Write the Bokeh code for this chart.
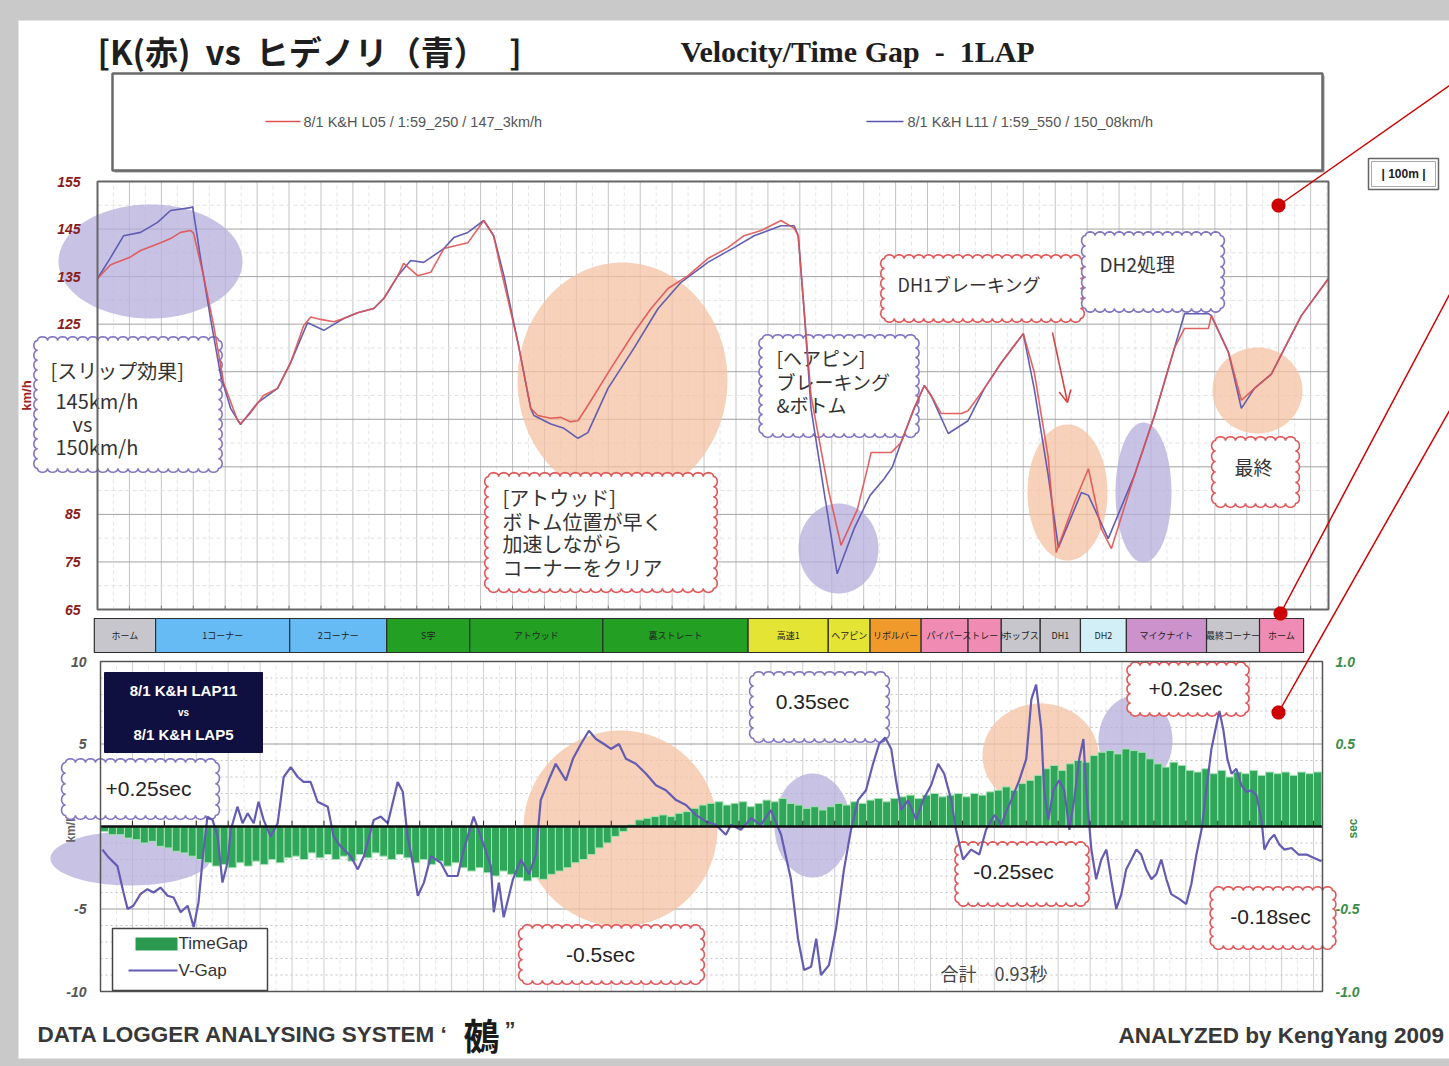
import math
import numpy as np
from bokeh.plotting import figure
from bokeh.layouts import column
from bokeh.models import (Range1d, LinearAxis, FixedTicker, PrintfTickFormatter, Arrow, OpenHead)
from bokeh.core.properties import value
from bokeh.embed import file_html
from bokeh.resources import INLINE

# ---------------- lap data ----------------
# distance along the lap [m] and speed [km/h]
red_dist = [0, 41, 100, 135, 198, 229, 260, 292, 301, 332, 364, 395, 439, 448, 475, 520, 564, 605, 646, 668,
            699, 740, 771, 815, 865, 897, 941, 959, 1003, 1044, 1085, 1160, 1210, 1241, 1263, 1317, 1357, 1379, 1420, 1452,
            1480, 1505, 1536, 1608, 1680, 1734, 1787, 1850, 1912, 1975, 2025, 2079, 2141, 2182, 2195, 2213, 2235, 2290, 2329, 2380,
            2414, 2423, 2486, 2517, 2558, 2590, 2611, 2643, 2706, 2727, 2778, 2831, 2900, 2934, 2978, 3003, 3060, 3104, 3144, 3176,
            3248, 3311, 3373, 3405, 3417, 3480, 3489, 3543, 3583, 3624, 3677, 3718, 3771, 3856]
red_kmh = [134.6, 137.5, 139.0, 140.5, 142.1, 143.0, 144.3, 144.7, 144.1, 135.2, 124.7, 112.7, 104.7, 104.1, 106.0, 110.0, 111.5, 116.9, 124.7, 126.5,
           126.0, 125.5, 126.2, 127.4, 128.3, 130.4, 135.2, 137.8, 135.2, 135.9, 140.9, 142.1, 146.8, 143.6, 136.7, 121.1, 107.3, 105.8, 105.2, 105.4,
           104.5, 104.7, 107.9, 115.7, 123.2, 128.3, 132.5, 135.2, 138.8, 141.1, 143.6, 144.7, 146.8, 145.2, 143.6, 128.3, 110.0, 90.0, 78.5, 86.0,
           95.3, 98.0, 98.0, 100.1, 107.3, 112.1, 110.0, 106.2, 106.2, 106.8, 111.5, 116.9, 123.0, 115.0, 97.0, 77.0, 87.5, 94.6, 82.0, 77.8,
           93.2, 105.8, 119.9, 124.1, 124.1, 124.1, 126.8, 119.0, 109.0, 111.5, 114.5, 119.9, 126.8, 134.6]

blue_dist = [0, 41, 82, 135, 188, 229, 292, 298, 323, 354, 386, 417, 448, 502, 564, 605, 658, 709, 771, 815,
             865, 897, 941, 981, 1022, 1085, 1116, 1160, 1210, 1241, 1273, 1317, 1357, 1367, 1420, 1461, 1505, 1536, 1599, 1680,
             1756, 1828, 1912, 1994, 2057, 2141, 2182, 2195, 2213, 2235, 2280, 2317, 2370, 2420, 2464, 2490, 2517, 2558, 2590, 2611,
             2665, 2727, 2778, 2831, 2900, 2934, 2978, 3010, 3082, 3104, 3166, 3248, 3311, 3373, 3405, 3480, 3489, 3543, 3583, 3624,
             3677, 3718, 3771, 3856]
blue_kmh = [134.6, 139.0, 143.6, 144.3, 146.4, 148.9, 149.5, 149.7, 138.8, 126.2, 114.2, 107.3, 103.9, 108.5, 111.5, 116.9, 125.3, 123.7, 126.2, 127.4,
            128.3, 130.4, 135.2, 138.4, 138.0, 140.9, 143.2, 144.3, 146.8, 143.6, 135.2, 121.1, 107.3, 105.8, 104.0, 103.1, 101.0, 102.2, 111.5, 119.9,
            128.3, 133.8, 138.0, 141.1, 143.6, 145.7, 145.7, 143.6, 128.3, 107.3, 88.0, 72.5, 82.0, 89.0, 92.5, 95.0, 100.1, 107.3, 112.1, 110.0,
            102.0, 104.7, 111.5, 116.9, 123.0, 111.5, 93.2, 78.0, 89.6, 89.0, 79.9, 93.2, 105.8, 119.9, 127.2, 127.2, 126.8, 119.0, 107.3, 111.5,
            114.5, 119.9, 126.8, 134.6]

# time gap per 25 m bin [sec]
gap_step_m = 25
time_gap_sec = [-0.03, -0.05, -0.05, -0.07, -0.08, -0.10, -0.09, -0.12, -0.13, -0.15,
                -0.16, -0.18, -0.20, -0.22, -0.24, -0.23, -0.25, -0.22, -0.24, -0.21,
                -0.23, -0.20, -0.22, -0.19, -0.18, -0.20, -0.16, -0.19, -0.17, -0.20,
                -0.18, -0.21, -0.17, -0.19, -0.16, -0.18, -0.20, -0.17, -0.19, -0.22,
                -0.20, -0.23, -0.21, -0.24, -0.22, -0.25, -0.27, -0.25, -0.28, -0.30,
                -0.27, -0.29, -0.31, -0.33, -0.31, -0.32, -0.29, -0.27, -0.25, -0.22,
                -0.20, -0.17, -0.13, -0.10, -0.06, -0.03, 0.01, 0.04, 0.05, 0.06,
                0.07, 0.06, 0.08, 0.09, 0.11, 0.13, 0.14, 0.15, 0.13, 0.14,
                0.15, 0.12, 0.14, 0.16, 0.15, 0.17, 0.14, 0.13, 0.11, 0.12,
                0.10, 0.12, 0.14, 0.13, 0.15, 0.14, 0.16, 0.17, 0.15, 0.17,
                0.18, 0.19, 0.17, 0.19, 0.20, 0.18, 0.19, 0.20, 0.18, 0.20,
                0.19, 0.21, 0.22, 0.24, 0.22, 0.26, 0.28, 0.31, 0.35, 0.37,
                0.34, 0.38, 0.40, 0.39, 0.43, 0.45, 0.46, 0.44, 0.47, 0.46,
                0.45, 0.41, 0.38, 0.36, 0.39, 0.37, 0.34, 0.33, 0.35, 0.32,
                0.34, 0.30, 0.33, 0.32, 0.34, 0.31, 0.33, 0.32, 0.33, 0.31,
                0.33, 0.32, 0.33]

# speed difference between the laps [km/h]
vgap_dist = [6, 22, 53, 72, 85, 103, 125, 147, 166, 188, 210, 229, 251, 273, 292, 307, 323, 335, 351, 367,
             382, 398, 408, 429, 445, 461, 480, 495, 511, 533, 555, 574, 596, 618, 636, 658, 680, 712, 730, 752,
             784, 806, 825, 856, 878, 900, 931, 947, 962, 978, 994, 1013, 1035, 1066, 1088, 1119, 1138, 1169, 1191, 1223,
             1232, 1248, 1263, 1292, 1317, 1342, 1364, 1379, 1404, 1426, 1458, 1480, 1505, 1530, 1552, 1577, 1599, 1624, 1646, 1677,
             1709, 1740, 1771, 1803, 1834, 1865, 1897, 1928, 1959, 1975, 2006, 2038, 2069, 2100, 2132, 2163, 2185, 2204, 2226, 2242,
             2257, 2282, 2304, 2329, 2351, 2373, 2398, 2420, 2439, 2458, 2477, 2492, 2508, 2530, 2555, 2577, 2602, 2624, 2643, 2665,
             2680, 2702, 2727, 2753, 2774, 2800, 2822, 2837, 2853, 2878, 2900, 2916, 2931, 2947, 2956, 2969, 2985, 3003, 3019, 3035,
             3050, 3066, 3079, 3088, 3104, 3119, 3135, 3151, 3166, 3182, 3198, 3213, 3229, 3245, 3260, 3276, 3292, 3307, 3323, 3339,
             3354, 3380, 3401, 3417, 3433, 3449, 3464, 3480, 3496, 3505, 3517, 3530, 3543, 3558, 3574, 3590, 3605, 3621, 3637, 3646,
             3662, 3677, 3693, 3709, 3731, 3753, 3778, 3800, 3825]
vgap_kmh = [-1.4, -1.8, -2.4, -4.0, -5.0, -4.8, -4.1, -3.8, -4.0, -3.7, -4.2, -4.3, -5.2, -4.8, -6.1, -4.6, -1.4, 0.6, 0.4, -0.6,
            -3.4, -2.2, -0.2, 1.2, 0.2, 0.8, 0.2, 1.5, 0.4, -0.6, 0.2, 3.0, 3.6, 3.0, 2.7, 2.7, 1.5, 1.2, -0.6, -1.2,
            -1.8, -2.6, -1.8, 0.4, 0.6, 0.2, 2.7, 2.1, -0.6, -2.2, -4.2, -3.4, -1.8, -2.2, -3.0, -3.0, -1.4, 0.6, -0.6, -2.4,
            -5.2, -3.4, -5.5, -3.2, -2.0, -2.9, -1.7, 1.6, 2.8, 3.8, 2.8, 4.1, 5.0, 5.8, 5.3, 5.0, 4.7, 5.0, 4.1, 3.8,
            3.2, 2.5, 2.2, 1.6, 1.3, 0.7, 0.3, 0.1, -0.5, 0.1, -0.2, 0.5, 0.1, 1.0, -0.5, -3.2, -6.8, -8.7, -8.5, -6.8,
            -9.0, -8.4, -6.2, -2.6, -0.2, 1.6, 2.2, 3.8, 5.0, 5.4, 4.7, 2.8, 1.0, 1.6, 0.4, 1.6, 2.5, 3.8, 3.2, 1.6,
            -0.2, -2.0, -1.4, -1.7, -0.2, 0.7, 0.1, 0.9, 1.6, 2.8, 4.1, 7.7, 8.6, 5.9, 2.2, 0.4, 2.2, 2.8, 2.2, -0.2,
            1.6, 4.1, 5.3, 2.2, -1.4, -3.2, -2.0, -1.4, -3.2, -5.0, -4.1, -2.6, -2.0, -1.4, -1.7, -2.6, -3.2, -2.9, -2.0, -3.2,
            -4.1, -4.4, -4.7, -3.5, -1.7, -0.2, 2.2, 4.7, 6.2, 7.0, 5.9, 4.1, 3.2, 3.5, 2.5, 2.1, 2.2, 1.9, 0.4, -1.4,
            -0.8, -0.5, -1.1, -1.4, -1.3, -1.7, -1.7, -1.9, -2.1]

# course sections [m]
section_names = ["ホーム", "1コーナー", "2コーナー", "S字", "アトウッド", "裏ストレート", "高速1", "ヘアピン",
                 "リボルバー", "パイパー", "ストレート", "ホッブス", "DH1", "DH2", "マイクナイト", "最終コーナー", "ホーム"]
section_bounds = [-10, 182, 602, 906, 1166, 1583, 2038, 2289, 2420, 2580, 2727, 2831, 2953, 3079, 3223, 3474, 3640, 3778]
section_colors = ["#c6c6cc", "#66bbf4", "#66bbf4", "#23a023", "#23a023", "#23a023", "#e4e434", "#e4e434",
                  "#f09a2c", "#f08cb4", "#f08cb4", "#c6c6cc", "#c6c6cc", "#d2eff8", "#cc92cc", "#c6c6cc", "#f08cb4"]

legend_red = "8/1 K&H L05 / 1:59_250 / 147_3km/h"
legend_blue = "8/1 K&H L11 / 1:59_550 / 150_08km/h"
speed_ticks = [65, 75, 85, 125, 135, 145, 155]
vgap_ticks = [-10, -5, 5, 10]
sec_ticks = [-1.0, -0.5, 0.5, 1.0]

# ---------------- sheet constants ----------------
PAGE_W = 1449
LAP_TOP = 3856
LAP_BOT = 3828
GRAY = "#c9c9c9"
JP = "Noto Sans CJK JP"
SANS = "Liberation Sans"
RED = "#e05252"
BLUE = "#5a56ae"
EDGE_RED = "#e0585a"
EDGE_PUR = "#8276c4"
LAV = "#b6aedb"
PEACH = "#f4c2a2"
NB = "\u00a0"


class PageMap:
    """Converts sheet pixel positions into a figure's data coordinates."""
    def __init__(self, fx0, fx1, fy0, fy1, dx0, dx1, dy0, dy1):
        self.ax = (dx1 - dx0) / (fx1 - fx0)
        self.bx = dx0 - fx0 * self.ax
        self.ay = (dy1 - dy0) / (fy1 - fy0)
        self.by = dy0 - fy0 * self.ay

    def x(self, px):
        return self.bx + self.ax * px

    def y(self, py):
        return self.by + self.ay * py


def patch(p, m, pts, fill=None, alpha=1.0, line=None, lw=1.0, level="glyph"):
    p.patch([m.x(a) for a, _ in pts], [m.y(b) for _, b in pts],
            fill_color=fill, fill_alpha=alpha if fill else 0.0,
            line_color=line, line_alpha=1.0 if line else 0.0, line_width=lw, level=level)


def rect(p, m, x0, y0, x1, y1, **kw):
    patch(p, m, [(x0, y0), (x1, y0), (x1, y1), (x0, y1)], **kw)


def seg(p, m, x0, y0, x1, y1, color, lw, level="glyph", dash="solid"):
    p.line([m.x(x0), m.x(x1)], [m.y(y0), m.y(y1)], line_color=color, line_width=lw,
           line_dash=dash, level=level)


def txt(p, m, px, py, s, size, color="#333333", font=JP, style="normal", align="left",
        baseline="middle", angle=0.0, level="glyph"):
    p.text(x=[m.x(px)], y=[m.y(py)], text=[s], text_font=value(font), text_font_size=f"{size}px",
           text_color=color, text_font_style=style, text_align=align, text_baseline=baseline,
           angle=angle, level=level)


def ellipse_pts(cx, cy, rx, ry, n=90):
    return [(cx + rx * math.cos(2 * math.pi * k / n), cy + ry * math.sin(2 * math.pi * k / n)) for k in range(n)]


def scallop_pts(x0, y0, x1, y1, bump=10.0, depth=0.75):
    pts = []
    corners = [(x0, y0), (x1, y0), (x1, y1), (x0, y1), (x0, y0)]
    for (ax, ay), (bx, by) in zip(corners[:-1], corners[1:]):
        length = math.hypot(bx - ax, by - ay)
        n = max(1, int(round(length / bump)))
        ux, uy = (bx - ax) / length, (by - ay) / length
        nx, ny = uy, -ux
        step = length / n
        r = step / 2
        for i in range(n):
            cx = ax + ux * (i + 0.5) * step
            cy = ay + uy * (i + 0.5) * step
            for k in range(9):
                t = math.pi * k / 8
                pts.append((cx - ux * r * math.cos(t) + nx * r * depth * math.sin(t),
                            cy - uy * r * math.cos(t) + ny * r * depth * math.sin(t)))
    return pts


def callout(p, m, box, edge, lines, size, font=JP, align="left", color="#333333", level="underlay"):
    patch(p, m, scallop_pts(*box), fill="white", line=edge, lw=1.6, level=level)
    for (px, py, s) in lines:
        txt(p, m, px, py, s, size, color=color, font=font, align=align, level=level)


POINTERS = [(1278, 205, 1449, 85), (1280, 613, 1449, 294), (1278, 712, 1449, 410)]


def sheet(p, m):
    # grey margins of the sheet and the red pointer lines on the right
    rect(p, m, -5, -5, 18, 1071, fill=GRAY, level="overlay")
    rect(p, m, -5, -5, 1454, 20, fill=GRAY, level="overlay")
    rect(p, m, -5, 1058, 1454, 1071, fill=GRAY, level="overlay")
    for (x0, y0, x1, y1) in POINTERS:
        seg(p, m, x0, y0, x1, y1, "#cc0000", 1.5, level="overlay")
        patch(p, m, ellipse_pts(x0, y0, 7, 7, 40), fill="#cc0000", level="overlay")


def make_fig(top, height, m, yaxis=None):
    # the frame fills the whole canvas; axes sit inside it
    p = figure(width=PAGE_W, height=height,
               x_range=Range1d(m.x(0), m.x(PAGE_W)), y_range=Range1d(m.y(top + height), m.y(top)),
               x_axis_location=None, y_axis_location=yaxis,
               output_backend="svg", toolbar_location=None, title=None,
               min_border_left=0, min_border_right=0, min_border_top=0, min_border_bottom=0)
    p.border_fill_color = "white"
    p.background_fill_color = "white"
    p.outline_line_color = None
    p.grid.visible = False
    return p


def style_axis(ax, color, standoff):
    ax.axis_line_color = None
    ax.major_tick_line_color = None
    ax.minor_tick_line_color = None
    ax.major_tick_in = 0
    ax.major_tick_out = 0
    ax.minor_tick_in = 0
    ax.minor_tick_out = 0
    ax.major_label_standoff = standoff
    ax.major_label_text_font = SANS
    ax.major_label_text_font_size = "14px"
    ax.major_label_text_font_style = "bold italic"
    ax.major_label_text_color = color


def grid_lines(p, x_major, x_minor, y_major, y_minor, x_span, y_span, colors):
    cx, cxm, cy, cym, dash_m = colors
    p.segment(x0=x_major, y0=y_span[0], x1=x_major, y1=y_span[1], line_color=cx, line_width=1, level="underlay")
    p.segment(x0=x_minor, y0=y_span[0], x1=x_minor, y1=y_span[1], line_color=cxm, line_width=1,
              line_dash="4 3", level="underlay")
    p.segment(x0=x_span[0], y0=y_minor, x1=x_span[1], y1=y_minor, line_color=cym, line_width=1,
              line_dash=dash_m, level="underlay")
    p.segment(x0=x_span[0], y0=y_major, x1=x_span[1], y1=y_major, line_color=cy, line_width=1, level="underlay")


# ================= velocity chart with header =================
m1 = PageMap(97, 1328, 181, 609, 0, LAP_TOP, 155, 65)
f1 = make_fig(0, 616, m1, yaxis="left")
f1.yaxis.ticker = FixedTicker(ticks=speed_ticks)
style_axis(f1.yaxis[0], "#8a1c1c", -80)

grid_lines(f1, np.arange(100, LAP_TOP, 100), np.arange(50, LAP_TOP, 100),
           np.arange(75, 155, 10), np.arange(70, 155, 10), (0, LAP_TOP), (65, 155),
           ("#c4c4c4", "#e6e6e6", "#a2a2a2", "#e2e2e2", "4 3"))

for (cx, cy, rx, ry, col) in [(150, 261, 92, 57, LAV), (622, 380, 105, 118, PEACH), (838, 548, 40, 45, LAV),
                              (1067, 492, 40, 68, PEACH), (1143, 492, 28, 70, LAV), (1257, 390, 45, 43, PEACH)]:
    patch(f1, m1, ellipse_pts(cx, cy, rx, ry), fill=col, alpha=0.75, level="underlay")

txt(f1, m1, 26, 395, "km/h", 13, color="#a02020", font=SANS, style="bold", align="center",
    angle=math.pi / 2, level="underlay")

callout(f1, m1, (37, 340, 218, 468), EDGE_PUR,
        [(50, 370, "[スリップ効果]"), (55, 400, "145km/h"), (72, 423, "vs"), (55, 446, "150km/h")], 20)
callout(f1, m1, (488, 476, 713, 588), EDGE_RED,
        [(502, 497, "[アトウッド]"), (502, 521, "ボトム位置が早く"), (502, 543, "加速しながら"),
         (502, 567, "コーナーをクリア")], 20)
callout(f1, m1, (762, 338, 915, 433), EDGE_PUR,
        [(776, 357, "[ヘアピン]"), (776, 381, "ブレーキング"), (776, 404, "&ボトム")], 19)
callout(f1, m1, (884, 258, 1080, 318), EDGE_RED, [(897, 283, "DH1ブレーキング")], 18)
callout(f1, m1, (1085, 235, 1220, 308), EDGE_PUR, [(1099, 263, "DH2処理")], 19)
callout(f1, m1, (1215, 440, 1295, 503), EDGE_RED, [(1253, 466, "最終")], 19, align="center")
f1.add_layout(Arrow(x_start=m1.x(1052), y_start=m1.y(332), x_end=m1.x(1067), y_end=m1.y(402),
                    start=None, line_color="#d04848", line_width=1.6,
                    end=OpenHead(size=12, line_color="#d04848", line_width=1.6)))

f1.line(blue_dist, blue_kmh, line_color=BLUE, line_width=1.6, line_alpha=0.95)
f1.line(red_dist, red_kmh, line_color=RED, line_width=1.6, line_alpha=0.9)
marks = np.arange(100, LAP_TOP, 100)
f1.segment(x0=marks, y0=65, x1=marks, y1=65.8, line_color="#777777", line_width=1)
rect(f1, m1, 97, 181, 1328, 609, line="#666666", lw=2, level="annotation")

# header
txt(f1, m1, 97, 50, f"[K(赤){NB} vs{NB} ヒデノリ（青）{NB}{NB} ]", 33, color="#1e1e1e", style="bold", level="overlay")
txt(f1, m1, 680, 51, f"Velocity/Time Gap{NB} -{NB} 1LAP", 30, color="#1e1e1e", font="Liberation Serif",
    style="bold", level="overlay")
rect(f1, m1, 114, 75, 1324, 172, fill="#9a9a9a", level="overlay")
rect(f1, m1, 112, 73, 1322, 170, fill="white", line="#6a6a6a", lw=2.5, level="overlay")
seg(f1, m1, 265, 121, 300, 121, RED, 1.5, level="overlay")
txt(f1, m1, 303, 121, legend_red, 14.5, color="#555555", font=SANS, level="overlay")
seg(f1, m1, 866, 121, 903, 121, BLUE, 1.5, level="overlay")
txt(f1, m1, 907, 121, legend_blue, 14.5, color="#555555", font=SANS, level="overlay")
rect(f1, m1, 1368, 158, 1438, 189, fill="white", line="#666666", lw=1.5, level="overlay")
rect(f1, m1, 1371, 161, 1435, 186, line="#aaaaaa", lw=1, level="overlay")
txt(f1, m1, 1403, 173, "| 100m |", 12, color="#222222", font=SANS, style="bold", align="center", level="overlay")
sheet(f1, m1)

# ================= course section bar =================
m2 = PageMap(97, 1328, 618, 652, 0, LAP_TOP, 1, 0)
f2 = make_fig(616, 37, m2)
f2.quad(left=section_bounds[:-1], right=section_bounds[1:], bottom=0, top=1,
        fill_color=section_colors, line_color="#2e2e2e", line_width=1.2)
sec_mid = [(a + b) / 2 for a, b in zip(section_bounds[:-1], section_bounds[1:])]
f2.text(x=sec_mid, y=[0.5] * len(sec_mid), text=section_names, text_font=value(JP),
        text_font_size="9px", text_align="center", text_baseline="middle", text_color="#222222")
sheet(f2, m2)

# ================= time gap / speed gap chart =================
m3 = PageMap(100, 1322, 661, 991, 0, LAP_BOT, 10, -10)
f3 = make_fig(653, 347, m3, yaxis="left")
f3.extra_y_ranges = {"sec": Range1d(m3.y(1000) / 10, m3.y(653) / 10)}
f3.yaxis.ticker = FixedTicker(ticks=vgap_ticks)
f3.yaxis.formatter = PrintfTickFormatter(format="%d")
style_axis(f3.yaxis[0], "#555555", -86)
sec_axis = LinearAxis(y_range_name="sec", ticker=FixedTicker(ticks=sec_ticks),
                      formatter=PrintfTickFormatter(format="%.1f"))
style_axis(sec_axis, "#3c8c46", -114)
f3.add_layout(sec_axis, "right")

grid_lines(f3, np.arange(100, LAP_BOT, 100), np.arange(50, LAP_BOT, 100),
           [-5, 5], [v for v in range(-9, 10) if v % 5 != 0], (0, LAP_BOT), (-10, 10),
           ("#cfcfcf", "#e8e8e8", "#9a9a9a", "#c4c4c4", "2 3"))

for (cx, cy, rx, ry, col) in [(130, 858, 80, 27, LAV), (620, 828, 97, 98, PEACH), (812, 825, 38, 52, LAV),
                              (1040, 755, 58, 52, PEACH), (1135, 740, 37, 45, LAV)]:
    patch(f3, m3, ellipse_pts(cx, cy, rx, ry), fill=col, alpha=0.75, level="underlay")

txt(f3, m3, 70, 828, "km/h", 12, color="#666666", font=SANS, style="bold", align="center",
    angle=math.pi / 2, level="underlay")
txt(f3, m3, 1352, 828, "sec", 12, color="#3c8c46", font=SANS, style="bold", align="center",
    angle=math.pi / 2, level="underlay")

for box, edge, (tx, ty, s) in [((65, 762, 215, 815), EDGE_PUR, (148, 788, "+0.25sec")),
                               ((753, 675, 885, 738), EDGE_PUR, (812, 701, "0.35sec")),
                               ((1130, 665, 1245, 712), EDGE_RED, (1185, 688, "+0.2sec")),
                               ((958, 845, 1085, 902), EDGE_RED, (1013, 871, "-0.25sec")),
                               ((1213, 890, 1332, 945), EDGE_RED, (1270, 916, "-0.18sec")),
                               ((522, 928, 700, 980), EDGE_RED, (600, 954, "-0.5sec"))]:
    callout(f3, m3, box, edge, [(tx, ty, s)], 21, font=SANS, align="center", color="#222222")

gap_centers = np.arange(len(time_gap_sec)) * gap_step_m + gap_step_m / 2
f3.vbar(x=gap_centers, top=time_gap_sec, bottom=0, width=gap_step_m, y_range_name="sec",
        fill_color="#2fa65a", line_color="#a6e4b2", line_width=1)
f3.line(vgap_dist, vgap_kmh, line_color="#645cb2", line_width=2.2)
f3.line([0, LAP_BOT], [0, 0], line_color="#111111", line_width=2.5, level="annotation")
zmarks = np.arange(100, LAP_BOT, 100)
f3.segment(x0=zmarks, y0=0, x1=zmarks, y1=0.35, line_color="#222222", line_width=1, level="annotation")
rect(f3, m3, 100, 661, 1322, 991, line="#555555", lw=1.5, level="annotation")

# lap comparison tag
rect(f3, m3, 104, 672, 262, 752, fill="#101040", line="#101040", level="annotation")
txt(f3, m3, 183, 690, "8/1 K&H LAP11", 15, color="white", font=SANS, style="bold", align="center", level="annotation")
txt(f3, m3, 183, 712, "vs", 10, color="white", font=SANS, style="bold", align="center", level="annotation")
txt(f3, m3, 183, 734, "8/1 K&H LAP5", 15, color="white", font=SANS, style="bold", align="center", level="annotation")

txt(f3, m3, 940, 972, "合計　0.93秒", 18, color="#444444", level="annotation")

# series key
rect(f3, m3, 112, 928, 267, 990, fill="white", line="#444444", lw=1.5, level="annotation")
rect(f3, m3, 135, 937, 177, 950, fill="#2a9a50", level="annotation")
txt(f3, m3, 178, 943, "TimeGap", 17, color="#333333", font=SANS, level="annotation")
seg(f3, m3, 128, 970, 177, 970, "#645cb2", 2, level="annotation")
txt(f3, m3, 178, 970, "V-Gap", 17, color="#333333", font=SANS, level="annotation")
sheet(f3, m3)

# ================= footer =================
m4 = PageMap(0, PAGE_W, 1000, 1066, 0, PAGE_W, 1000, 1066)
f4 = make_fig(1000, 66, m4)
txt(f4, m4, 37, 1034, "DATA LOGGER ANALYSING SYSTEM \u2018", 22.5, color="#383838", font=SANS, style="bold")
txt(f4, m4, 481, 1033, "鵺", 36, color="#1a1a1a", style="bold", align="center")
txt(f4, m4, 504, 1029, "\u201d", 22, color="#383838", font=SANS, style="bold")
txt(f4, m4, 1118, 1035, "ANALYZED by KengYang 2009", 22.5, color="#383838", font=SANS, style="bold")
sheet(f4, m4)

page = column(f1, f2, f3, f4, spacing=0)
open("out.html", "w").write(file_html(page, INLINE, title="Velocity/Time Gap - 1LAP"))
